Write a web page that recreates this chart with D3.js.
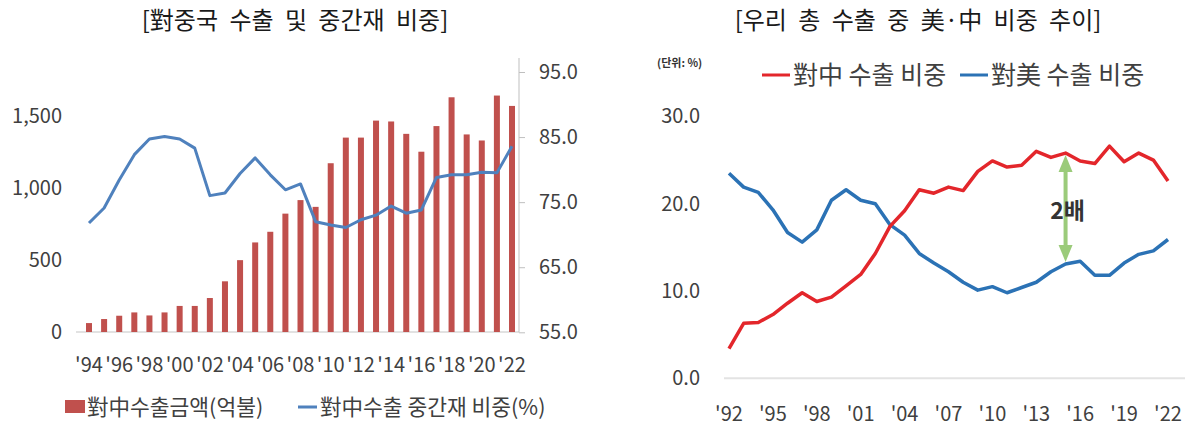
<!DOCTYPE html>
<meta charset="utf-8">
<style>
body { margin: 0; background: #fff; }
svg text { font-family: "Noto Sans CJK KR", "Noto Sans", sans-serif; }
.title { font-size: 24px; fill: #1a1a1a; text-anchor: middle; word-spacing: 6px; }
.tick-label { font-size: 20px; fill: #404040; }
</style>
<body>
<div id="chart"></div>
<script src="https://cdnjs.cloudflare.com/ajax/libs/d3/7.8.5/d3.min.js"></script>
<script>

// left chart: exports to China (100M USD) and intermediate goods share (%)
var amtYears   = [1994,1995,1996,1997,1998,1999,2000,2001,2002,2003,2004,2005,2006,2007,2008,
                  2009,2010,2011,2012,2013,2014,2015,2016,2017,2018,2019,2020,2021,2022];
var exportAmt  = [62, 90, 113, 136, 115, 136, 181, 181, 236, 352, 499, 622, 696, 822, 916,
                  869, 1172, 1350, 1350, 1468, 1462, 1376, 1252, 1430, 1630, 1372, 1330, 1642, 1570];
var interShare = [71.8, 74.1, 78.4, 82.3, 84.7, 85.1, 84.7, 83.3, 76.0, 76.4, 79.4, 81.8, 79.2, 76.9, 77.8,
                  72.0, 71.5, 71.1, 72.3, 73.0, 74.4, 73.3, 73.8, 78.8, 79.2, 79.2, 79.6, 79.5, 83.6];
var amtTicks   = [0, 500, 1000, 1500];
var shareTicks = [55, 65, 75, 85, 95];

// right chart: share of total exports (%)
var shareYears = [1992,1993,1994,1995,1996,1997,1998,1999,2000,2001,2002,2003,2004,2005,2006,2007,
                  2008,2009,2010,2011,2012,2013,2014,2015,2016,2017,2018,2019,2020,2021,2022];
var chinaShare = [3.4, 6.3, 6.4, 7.3, 8.6, 9.8, 8.8, 9.3, 10.6, 11.9, 14.3, 17.4, 19.2, 21.6, 21.2, 21.9,
                  21.5, 23.7, 24.9, 24.2, 24.4, 26.0, 25.3, 25.8, 24.9, 24.6, 26.6, 24.8, 25.8, 25.0, 22.6];
var usShare    = [23.5, 21.9, 21.3, 19.3, 16.7, 15.6, 17.0, 20.4, 21.6, 20.4, 20.0, 17.6, 16.4, 14.3, 13.2, 12.2,
                  11.0, 10.1, 10.5, 9.8, 10.4, 11.0, 12.2, 13.1, 13.4, 11.8, 11.8, 13.2, 14.2, 14.6, 15.9];
var pctTicks   = [0, 10, 20, 30];
var yearTicks  = [1992, 1995, 1998, 2001, 2004, 2007, 2010, 2013, 2016, 2019, 2022];
var gapYear    = 2015;

var svg = d3.select("#chart").append("svg")
    .attr("width", 1191)
    .attr("height", 434);

//////////////// left chart ////////////////
var xL = d3.scaleLinear().domain([1994, 2022]).range([89, 512]);
var yL = d3.scaleLinear().domain([0, 1500]).range([332, 116]);
var yR = d3.scaleLinear().domain([55, 95]).range([332.3, 72]);

var left = svg.append("g");

left.append("text")
    .attr("class", "title")
    .attr("x", 295).attr("y", 29)
    .text("[對중국 수출 및 중간재 비중]");

// baseline
left.append("line")
    .attr("x1", 76).attr("x2", 519)
    .attr("y1", yL(0)).attr("y2", yL(0))
    .attr("stroke", "#d9d9d9").attr("stroke-width", 1.5);

left.selectAll(".ylab")
    .data(amtTicks)
    .enter().append("text")
    .attr("class", "tick-label")
    .attr("x", 62)
    .attr("y", d => yL(d))
    .attr("dy", "0.35em")
    .attr("text-anchor", "end")
    .text(d => d3.format(",")(d));

// right axis
var axisR = left.append("g")
    .attr("transform", "translate(519,0)")
    .call(d3.axisRight(yR).tickValues(shareTicks).tickFormat(d3.format(".1f")).tickSize(6).tickPadding(14));
axisR.select(".domain").attr("stroke", "#bfbfbf").attr("d", "M0," + (yR(95) - 14) + "V" + yR(55));
axisR.selectAll(".tick line").attr("stroke", "#bfbfbf");
axisR.selectAll(".tick text")
    .attr("class", "tick-label")
    .attr("fill", null);

left.selectAll(".bar")
    .data(amtYears)
    .enter().append("rect")
    .attr("class", "bar")
    .attr("x", d => xL(d) - 3)
    .attr("width", 6)
    .attr("y", (d, i) => yL(exportAmt[i]))
    .attr("height", (d, i) => yL(0) - yL(exportAmt[i]))
    .attr("fill", "#c0504d");

var lineL = d3.line()
    .x((d, i) => xL(amtYears[i]))
    .y(d => yR(d));

left.append("path")
    .datum(interShare)
    .attr("d", lineL)
    .attr("fill", "none")
    .attr("stroke", "#4f81bd")
    .attr("stroke-width", 3)
    .attr("stroke-linejoin", "round");

left.selectAll(".xlab")
    .data(amtYears.filter(d => d % 2 == 0))
    .enter().append("text")
    .attr("class", "tick-label")
    .attr("x", d => xL(d))
    .attr("y", 372)
    .attr("text-anchor", "middle")
    .attr("fill", "#333")
    .text(d => "'" + String(d).slice(2));

// legend
var legL = left.append("g").attr("transform", "translate(0,407)");
legL.append("rect")
    .attr("x", 65).attr("y", -7).attr("width", 20).attr("height", 13)
    .attr("fill", "#c0504d");
legL.append("text")
    .attr("x", 87).attr("dy", "0.35em")
    .attr("font-size", 21.5).attr("fill", "#404040")
    .text("對中수출금액(억불)");
legL.append("line")
    .attr("x1", 298).attr("x2", 317)
    .attr("stroke", "#4f81bd").attr("stroke-width", 3);
legL.append("text")
    .attr("x", 320).attr("dy", "0.35em")
    .attr("font-size", 21.5).attr("fill", "#404040")
    .text("對中수출 중간재 비중(%)");

//////////////// right chart ////////////////
var x2 = d3.scaleLinear().domain([1992, 2022]).range([729, 1168]);
var y2 = d3.scaleLinear().domain([0, 30]).range([378.3, 116.4]);

var right = svg.append("g");

right.append("text")
    .attr("class", "title")
    .attr("x", 918).attr("y", 29)
    .text("[우리 총 수출 중 美·中 비중 추이]");

right.append("text")
    .attr("x", 657).attr("y", 67)
    .attr("font-size", 11).attr("font-weight", "bold").attr("fill", "#333")
    .text("(단위: %)");

right.append("line")
    .attr("x1", 724).attr("x2", 1185)
    .attr("y1", y2(0)).attr("y2", y2(0))
    .attr("stroke", "#e3e3e3").attr("stroke-width", 2);

right.selectAll(".ylab")
    .data(pctTicks)
    .enter().append("text")
    .attr("class", "tick-label")
    .attr("x", 700)
    .attr("y", d => y2(d))
    .attr("dy", "0.35em")
    .attr("text-anchor", "end")
    .attr("font-size", 21)
    .attr("fill", "#333")
    .text(d => d3.format(".1f")(d));

right.selectAll(".xlab")
    .data(yearTicks)
    .enter().append("text")
    .attr("class", "tick-label")
    .attr("x", d => x2(d))
    .attr("y", 421)
    .attr("text-anchor", "middle")
    .attr("font-size", 21)
    .attr("fill", "#333")
    .text(d => "'" + String(d).slice(2));

var line2 = d3.line()
    .x((d, i) => x2(shareYears[i]))
    .y(d => y2(d));

[[usShare, "#2b72b5"], [chinaShare, "#e3262b"]].forEach(function(s){
    right.append("path")
        .datum(s[0])
        .attr("d", line2)
        .attr("fill", "none")
        .attr("stroke", s[1])
        .attr("stroke-width", 3.5)
        .attr("stroke-linejoin", "round");
});

// double arrow between the two series
var gi = shareYears.indexOf(gapYear),
    gx = x2(gapYear),
    gTop = y2(chinaShare[gi]) + 2,
    gBot = y2(usShare[gi]) - 2;
var arrow = right.append("g").attr("fill", "#9bcb7a");
arrow.append("rect")
    .attr("x", gx - 2).attr("width", 4)
    .attr("y", gTop + 14).attr("height", gBot - gTop - 28);
arrow.append("path")
    .attr("d", "M" + gx + "," + gTop + "l7,17h-14z");
arrow.append("path")
    .attr("d", "M" + gx + "," + gBot + "l7,-17h-14z");
right.append("text")
    .attr("x", gx + 2).attr("y", (gTop + gBot) / 2 + 2)
    .attr("dy", "0.35em")
    .attr("text-anchor", "middle")
    .attr("font-size", 23).attr("font-weight", "bold").attr("fill", "#333")
    .text("2배");

// legend
var legR = right.append("g").attr("transform", "translate(0,75)");
[["對中 수출 비중", "#e3262b", 762], ["對美 수출 비중", "#2b72b5", 960]].forEach(function(l){
    legR.append("line")
        .attr("x1", l[2]).attr("x2", l[2] + 28)
        .attr("stroke", l[1]).attr("stroke-width", 3);
    legR.append("text")
        .attr("x", l[2] + 31).attr("dy", "0.35em")
        .attr("font-size", 25).attr("fill", "#404040")
        .text(l[0]);
});

</script>
